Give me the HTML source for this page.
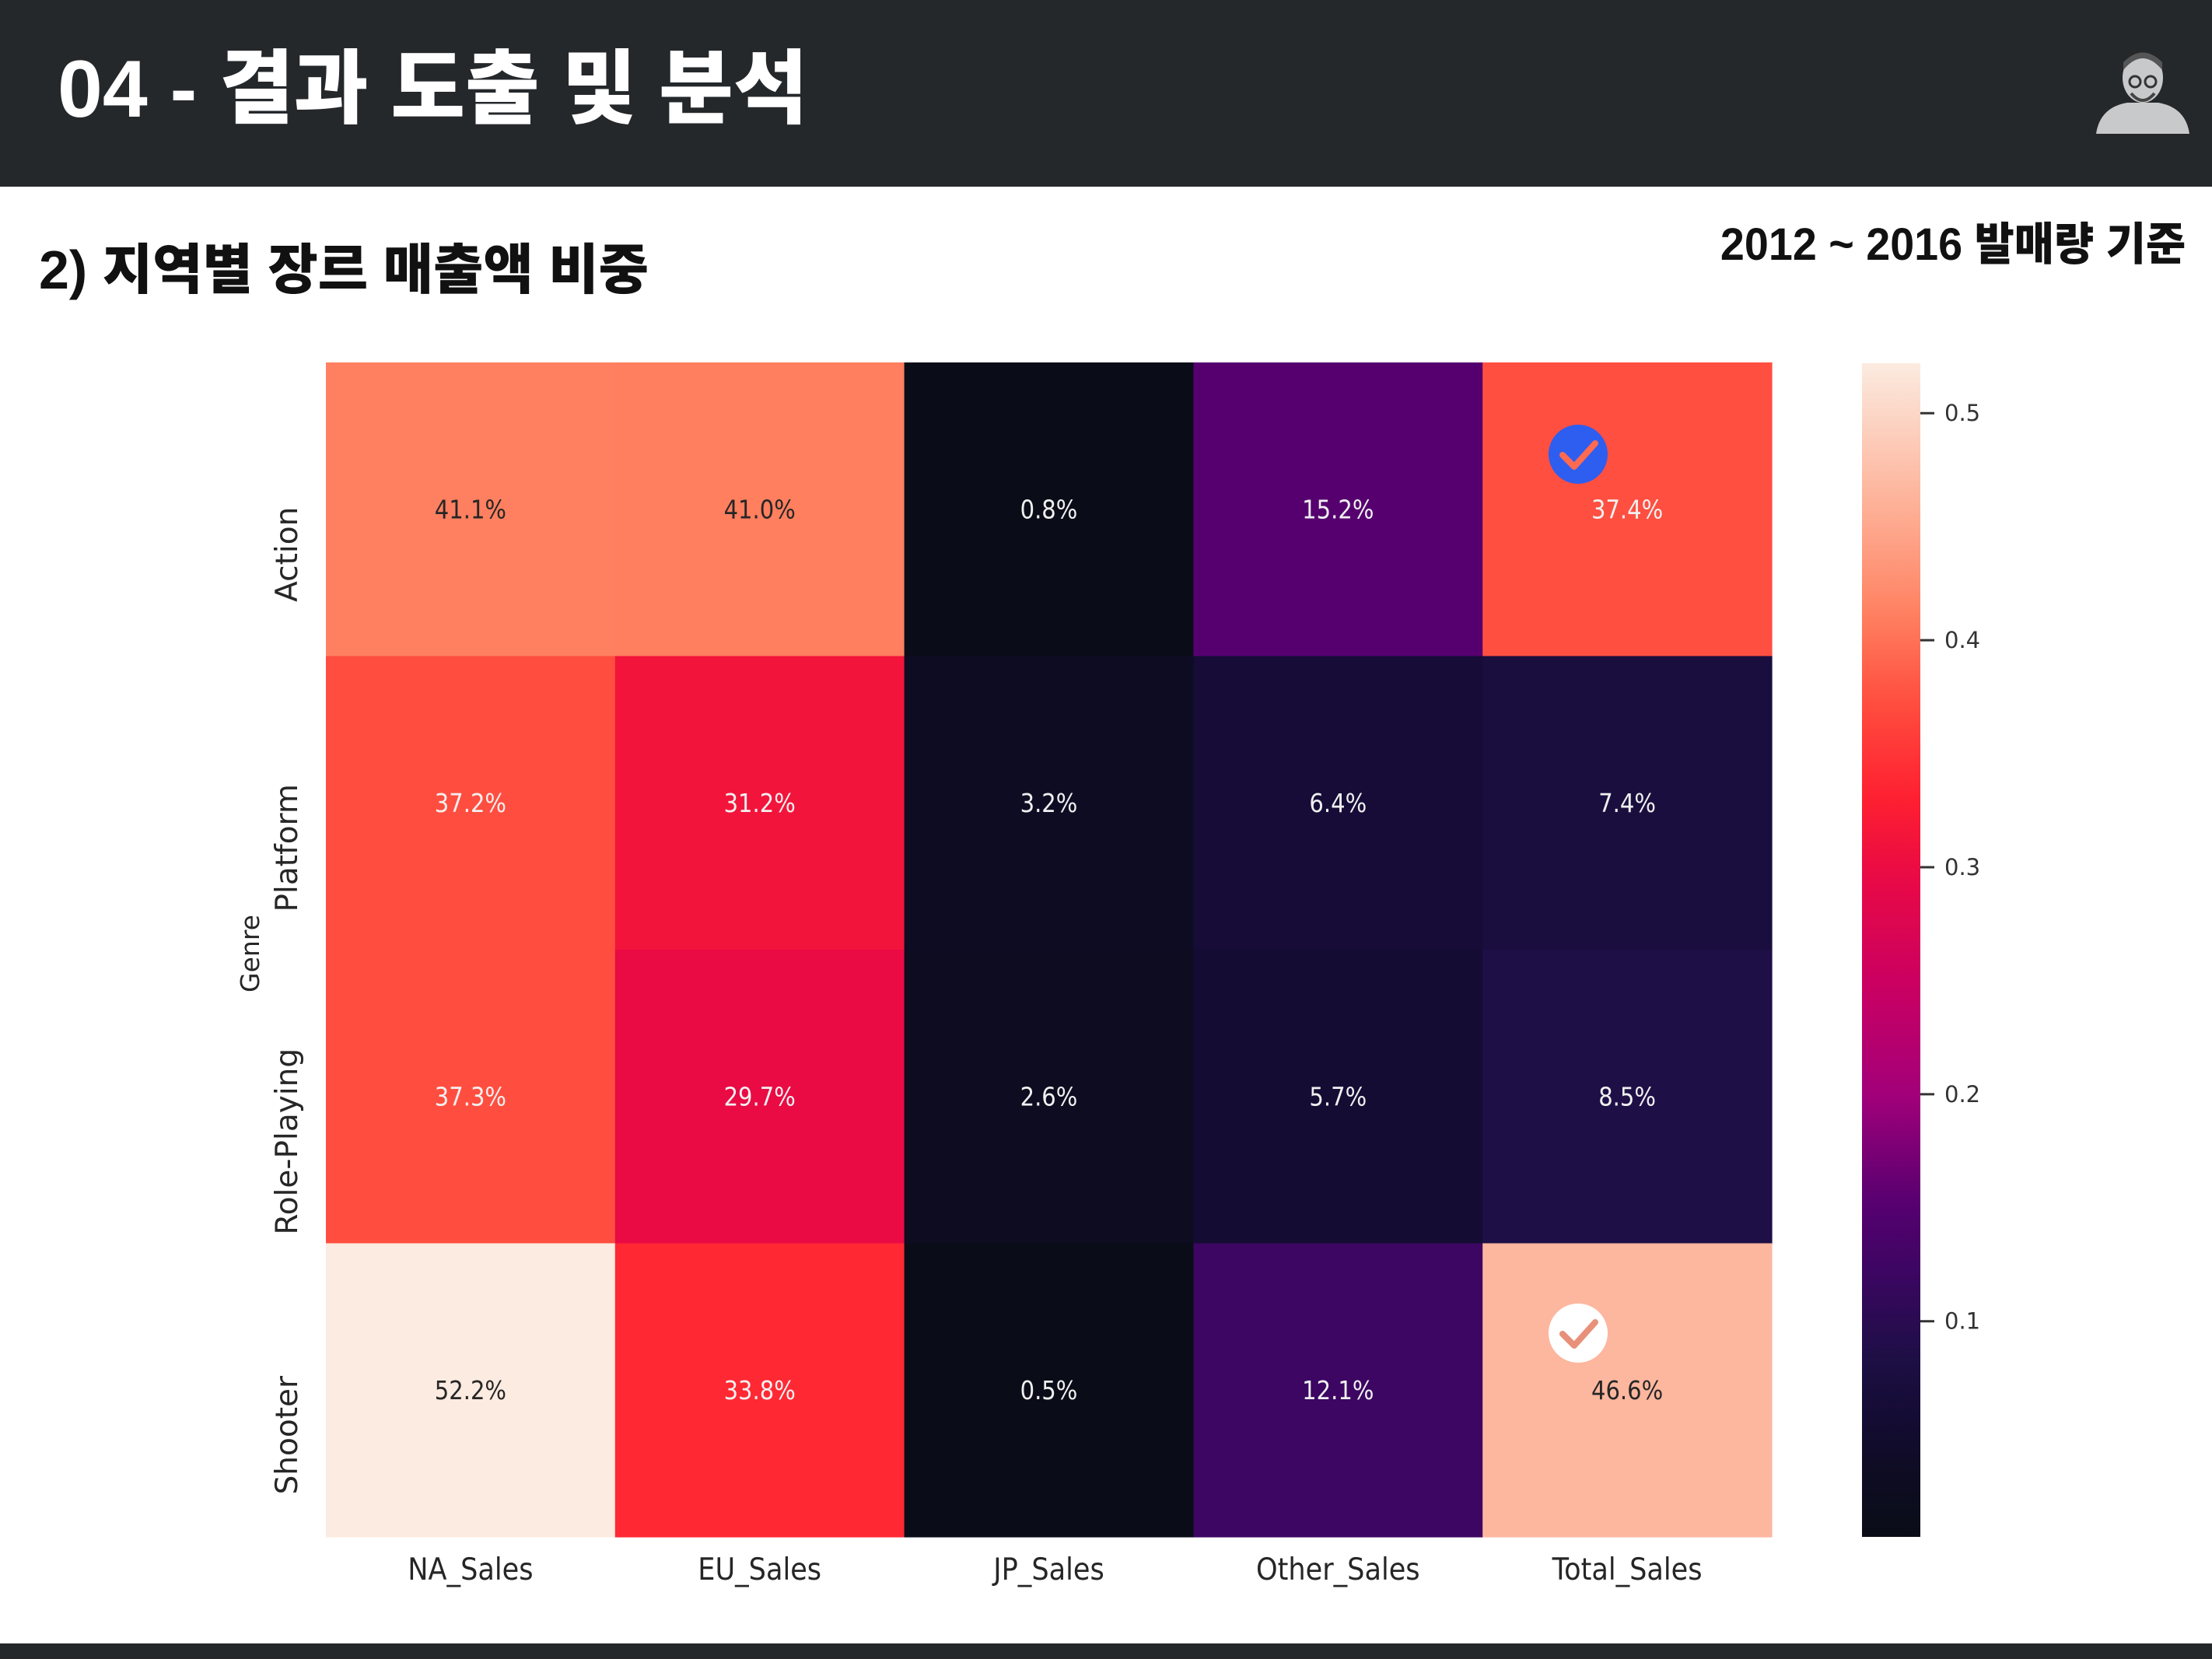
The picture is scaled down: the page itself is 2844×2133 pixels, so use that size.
<!DOCTYPE html>
<html><head><meta charset="utf-8"><style>
html,body{margin:0;padding:0;background:#fff;}
#page{position:relative;width:2844px;height:2133px;overflow:hidden;background:#fff;font-family:"Liberation Sans","Noto Sans CJK KR",sans-serif;}
.hdr{position:absolute;left:0;top:0;width:2844px;height:240px;background:#25282b;}
.ftr{position:absolute;left:0;top:2113px;width:2844px;height:20px;background:#25282b;}
.t{position:absolute;white-space:nowrap;font-weight:900;}
</style></head><body>
<div id="page">
<div class="hdr"></div>
<div class="t" style="left:74px;top:29px;font-size:104px;color:#fff;transform:scaleX(1.0);transform-origin:left;">04 - 결과 도출 및 분석</div>
<svg style="position:absolute;left:2690px;top:60px" width="130" height="116" viewBox="0 0 130 116">
<path d="M5 112 Q10 78 45 72 L85 72 Q120 78 125 112 Z" fill="#c8c9cb"/>
<ellipse cx="65" cy="40" rx="26" ry="32" fill="#c8c9cb"/>
<path d="M40 30 Q65 0 90 30 L90 20 Q65 -5 40 20Z" fill="#555"/>
<circle cx="55" cy="45" r="7" fill="none" stroke="#333" stroke-width="3"/><circle cx="75" cy="45" r="7" fill="none" stroke="#333" stroke-width="3"/>
<path d="M50 60 Q65 78 80 60" fill="none" stroke="#444" stroke-width="4"/>
</svg>
<div class="t" style="left:50px;top:291px;font-size:70px;color:#111;transform:scaleX(1.0);transform-origin:left;">2) 지역별 장르 매출액 비중</div>
<div class="t" style="right:34px;top:267px;font-size:58px;color:#111;transform:scaleX(0.96);transform-origin:right;">2012 ~ 2016 발매량 기준</div>
<div class="ftr"></div>
<svg id="chart" style="position:absolute;left:0;top:0" width="2844" height="2133"></svg>
</div>
<script>
const columns = ["NA_Sales","EU_Sales","JP_Sales","Other_Sales","Total_Sales"];
const genres = ["Action","Platform","Role-Playing","Shooter"];
const rowAction = [0.411,0.410,0.008,0.152,0.374];
const rowPlatform = [0.372,0.312,0.032,0.064,0.074];
const rowRolePlaying = [0.373,0.297,0.026,0.057,0.085];
const rowShooter = [0.522,0.338,0.005,0.121,0.466];
const colorbarTicks = [0.1,0.2,0.3,0.4,0.5];
const vmin = 0.005, vmax = 0.522;

const rows = [rowAction,rowPlatform,rowRolePlaying,rowShooter];
const NS="http://www.w3.org/2000/svg";
const svg=document.getElementById('chart');
const X0=419,X1=2278,Y0=466,Y1=1976;
const cw=(X1-X0)/columns.length, rh=(Y1-Y0)/genres.length;
const xCol=i=>X0+i*cw, yRow=j=>Y0+j*rh;
const CB={x:2394,w:75,top:467,bot:1976};
const yCb=v=>CB.bot-(v-vmin)/(vmax-vmin)*(CB.bot-CB.top);
const stops=[[0.0,"#0a0d17"],[0.05,"#0e0c22"],[0.11,"#150c36"],[0.155,"#1e0f46"],[0.225,"#3c0662"],[0.285,"#560070"],[0.377,"#a3007a"],[0.475,"#cc0060"],[0.565,"#ea0a44"],[0.63,"#ff2030"],[0.715,"#ff5040"],[0.785,"#ff8060"],[0.893,"#fdb8a0"],[1.0,"#fcebe0"]];
function hex(h){return [1,3,5].map(i=>parseInt(h.substr(i,2),16));}
function cmap(v){let t=(v-vmin)/(vmax-vmin);t=Math.max(0,Math.min(1,t));
 for(let k=1;k<stops.length;k++){if(t<=stops[k][0]){const a=stops[k-1],b=stops[k];const f=(t-a[0])/(b[0]-a[0]);const A=hex(a[1]),B=hex(b[1]);return A.map((c,i)=>Math.round(c+(B[i]-c)*f));}}
 return hex(stops[stops.length-1][1]);}
function lum(c){const l=c.map(x=>{x/=255;return x<=0.03928?x/12.92:Math.pow((x+0.055)/1.055,2.4);});return 0.2126*l[0]+0.7152*l[1]+0.0722*l[2];}
function mk(tag,attrs,parent){const e=document.createElementNS(NS,tag);for(const k in attrs)e.setAttribute(k,attrs[k]);(parent||svg).appendChild(e);return e;}
const FONT='"DejaVu Sans","Liberation Sans",sans-serif';
rows.forEach((row,j)=>{row.forEach((v,i)=>{
 const c=cmap(v);
 const r=mk('rect',{x:xCol(i),y:yRow(j),width:cw+0.6,height:rh+0.6,fill:`rgb(${c})`});
 
 
 const cx=xCol(i)+cw/2;
 const t=mk('text',{x:cx,y:yRow(j)+rh/2+12,'text-anchor':'middle','font-size':33,'font-family':FONT,fill:lum(c)>0.33?'#262626':'#f0f0f0',transform:`translate(${cx},0) scale(0.88,1) translate(${-cx},0)`});
 t.textContent=(v*100).toFixed(1)+'%';
 
 
});});
columns.forEach((n,i)=>{const cx=xCol(i)+cw/2;
 const t=mk('text',{x:cx,y:2031,'text-anchor':'middle','font-size':39,'font-family':FONT,fill:'#262626',transform:`translate(${cx},0) scale(0.9,1) translate(${-cx},0)`});t.textContent=n;
 
 
});
genres.forEach((g,j)=>{const cy=yRow(j)+rh/2+58;
 const t=mk('text',{x:0,y:0,'text-anchor':'middle','font-size':39,'font-family':FONT,fill:'#262626',transform:`translate(${382},${cy}) rotate(-90)`});t.textContent=g;
 
 
});
const gl=mk('text',{x:0,y:0,'text-anchor':'middle','font-size':33,'font-family':FONT,fill:'#262626',transform:`translate(333,${(Y0+Y1)/2+5}) rotate(-90)`});gl.textContent='Genre';


const defs=mk('defs',{});const lg=mk('linearGradient',{id:'cbg',x1:0,y1:1,x2:0,y2:0},defs);
for(let k=0;k<=40;k++){const v=vmin+(vmax-vmin)*k/40;mk('stop',{offset:k/40,'stop-color':`rgb(${cmap(v)})`},lg);}
const cb=mk('rect',{x:CB.x,y:CB.top,width:CB.w,height:CB.bot-CB.top,fill:'url(#cbg)'});


colorbarTicks.forEach(v=>{const y=yCb(v);
 const l=mk('line',{x1:CB.x+CB.w,x2:CB.x+CB.w+18,y1:y,y2:y,stroke:'#333','stroke-width':3});
 
 
 const t=mk('text',{x:2500,y:y+10,'font-size':29,'font-family':FONT,fill:'#333'});t.textContent=v.toFixed(1);
 
 
});
function badge(cx,cy,bg,fg,name){const g=mk('g',{});
 
 
 mk('circle',{cx,cy,r:38,fill:bg},g);
 mk('path',{d:`M${cx-20} ${cy+1} L${cx-5} ${cy+16} L${cx+22} ${cy-14}`,fill:'none',stroke:fg,'stroke-width':8,'stroke-linecap':'round','stroke-linejoin':'round'},g);}
badge(2029,584,'#2d5ef0','#ff6a50','check-badge-action');
badge(2029,1714,'#ffffff','#e8907a','check-badge-shooter');
</script>
</body></html>
